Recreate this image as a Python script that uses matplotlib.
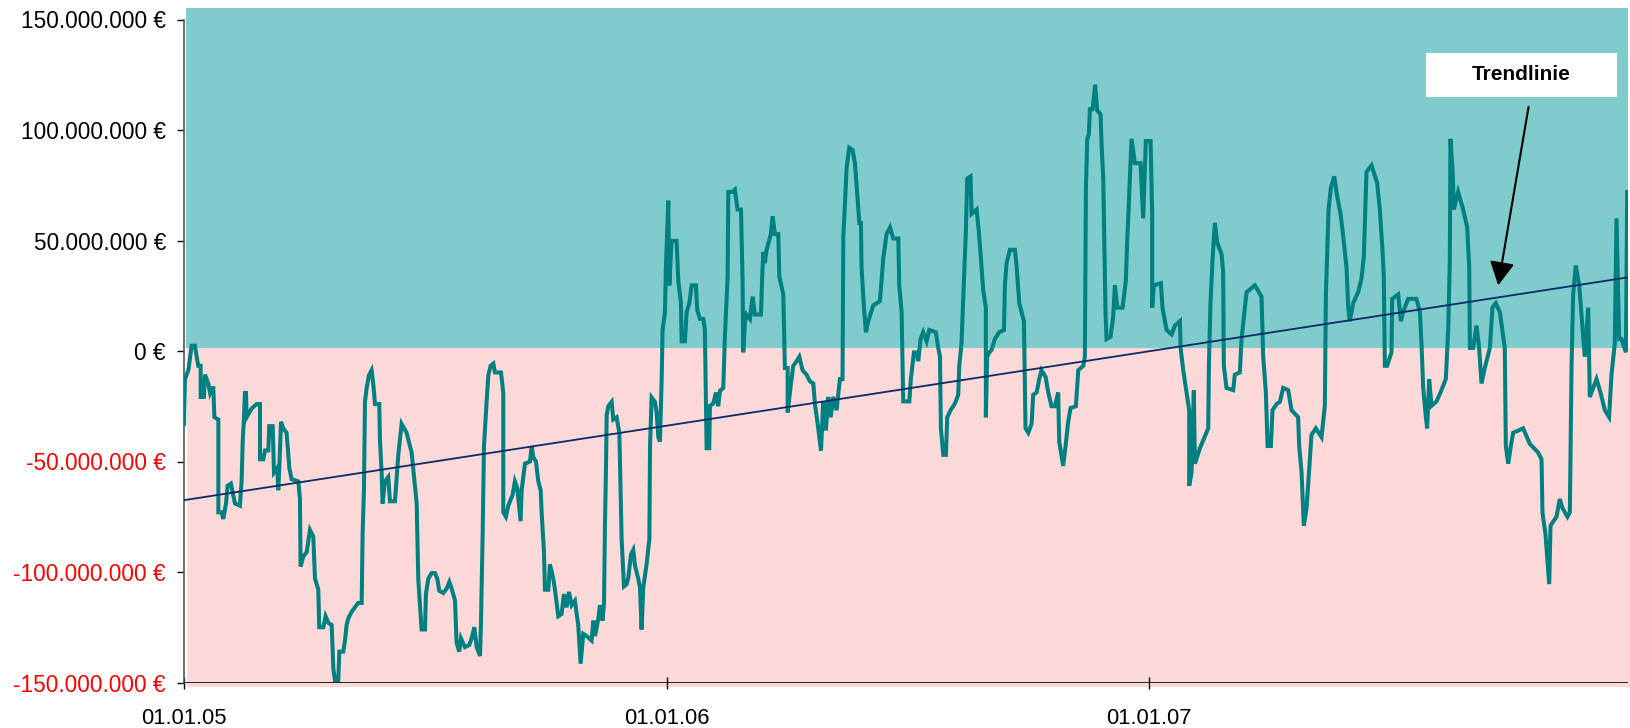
import matplotlib
matplotlib.use('Agg')
import matplotlib.pyplot as plt
import matplotlib.dates as mdates
import matplotlib.ticker as mticker
from matplotlib.patches import Rectangle
import numpy as np
import pandas as pd

plt.rcParams['font.family'] = ['Liberation Sans', 'DejaVu Sans']

# days since 01.01.2005 and value in million EUR
days = [0.0, 0.75, 3.3, 5.8, 8.3, 9.6, 10.8, 12.6, 12.6, 15.1, 15.9, 18.4, 19.7, 20.9, 22.2, 23.0,
        26.0, 26.0, 28.5, 29.7, 31.8, 33.0, 35.5, 36.8, 38.6, 42.3, 43.6, 44.4, 45.4, 46.1, 46.9,
        47.4, 51.2, 55.0, 57.5, 57.5, 60.0, 61.3, 63.8, 64.5, 67.1, 68.1, 70.6, 71.3, 72.1, 73.4,
        75.1, 77.6, 79.7, 81.4, 86.5, 87.7, 88.2, 90.2, 92.8, 95.3, 97.8, 99.1, 101.6, 102.3,
        105.4, 107.1, 109.2, 111.7, 113.0, 114.2, 116.7, 117.5, 120.5, 121.8, 123.0, 124.3, 126.8,
        129.3, 131.8, 134.4, 135.1, 136.1, 136.9, 138.1, 139.9, 141.9, 143.2, 144.5, 147.7, 148.2,
        149.5, 150.2, 152.0, 154.5, 155.8, 159.6, 162.1, 164.6, 168.4, 170.9, 172.2, 176.0, 177.2,
        179.7, 182.3, 183.0, 184.8, 187.3, 189.8, 191.6, 193.1, 196.1, 198.7, 200.7, 202.5, 205.0,
        206.2, 208.2, 209.5, 212.5, 215.8, 217.6, 219.6, 221.4, 223.9, 224.6, 225.9, 226.9, 228.9,
        230.2, 231.9, 234.0, 235.2, 239.8, 241.5, 241.5, 243.5, 245.3, 248.6, 250.3, 252.1, 254.6,
        255.4, 257.9, 261.7, 263.0, 264.2, 266.2, 268.0, 269.8, 270.5, 272.3, 273.0, 275.6, 276.8,
        279.3, 280.6, 283.1, 285.6, 287.4, 289.4, 291.2, 293.2, 295.7, 298.2, 300.0, 302.0, 304.6,
        308.3, 309.6, 310.9, 313.4, 314.6, 316.6, 317.7, 318.4, 319.2, 319.7, 320.9, 323.5, 324.7,
        327.2, 329.3, 331.0, 332.8, 334.8, 336.1, 338.1, 339.8, 341.1, 343.6, 344.9, 346.1, 347.4,
        349.9, 352.0, 352.5, 353.7, 356.2, 357.5, 358.8, 360.0, 361.3, 362.0, 363.8, 364.5, 366.3,
        367.1, 368.8, 372.6, 373.9, 375.9, 376.4, 378.9, 380.2, 382.2, 384.0, 387.2, 388.2, 390.3,
        392.8, 394.0, 395.3, 397.3, 397.8, 400.3, 402.4, 404.1, 405.4, 407.9, 409.2, 411.2, 411.7,
        415.0, 416.7, 418.7, 421.3, 422.5, 423.0, 424.3, 425.5, 428.1, 430.1, 431.8, 436.4, 437.4,
        438.2, 439.4, 440.7, 443.9, 445.2, 447.0, 449.5, 450.3, 453.3, 454.5, 456.6, 456.6, 458.3,
        460.8, 463.4, 465.4, 467.9, 470.9, 473.4, 476.0, 477.2, 479.7, 481.8, 483.5, 485.5, 487.3,
        489.1, 491.1, 493.6, 496.1, 498.1, 498.7, 499.9, 501.2, 503.2, 505.7, 507.5, 510.8, 512.0,
        512.5, 514.3, 515.8, 517.6, 521.3, 526.4, 528.9, 531.4, 534.0, 536.5, 540.3, 541.0, 542.8,
        544.0, 548.6, 549.8, 552.1, 554.1, 555.4, 557.1, 559.1, 561.7, 563.7, 568.7, 570.5, 571.8,
        572.5, 574.3, 576.3, 577.3, 579.8, 583.1, 585.6, 586.4, 588.1, 589.9, 591.4, 592.4, 594.9,
        595.7, 599.5, 601.2, 602.8, 604.5, 606.5, 606.5, 607.5, 609.1, 610.8, 613.3, 616.6, 620.2,
        620.9, 622.2, 624.7, 628.5, 629.7, 631.8, 635.3, 636.5, 638.6, 641.1, 642.3, 644.9, 646.9,
        648.6, 651.7, 653.7, 656.2, 658.7, 661.2, 662.0, 665.0, 666.8, 668.8, 670.6, 674.6, 676.4,
        680.2, 681.4, 682.2, 683.2, 684.4, 685.2, 687.2, 689.2, 690.7, 693.3, 694.0, 695.3, 697.0,
        697.8, 700.8, 702.8, 704.1, 705.9, 709.9, 712.4, 713.4, 714.2, 715.4, 716.7, 719.2, 723.5,
        725.5, 727.5, 731.1, 732.3, 732.3, 733.6, 738.9, 740.1, 743.2, 747.0, 749.5, 753.3, 753.8,
        755.8, 757.8, 760.3, 760.3, 762.1, 763.8, 764.6, 768.4, 774.7, 775.2, 776.4, 778.0, 779.7,
        781.5, 784.8, 786.0, 786.5, 788.5, 793.6, 794.8, 798.6, 799.9, 803.7, 810.0, 815.0, 816.3,
        818.3, 819.6, 822.1, 823.3, 826.4, 828.9, 831.4, 835.2, 837.7, 842.7, 843.5, 845.3, 847.0,
        849.1, 851.1, 852.8, 856.1, 860.4, 862.9, 863.7, 865.7, 867.5, 870.0, 872.2, 874.8, 876.8,
        879.3, 880.6, 881.8, 884.3, 888.1, 890.6, 892.4, 894.4, 898.2, 902.5, 904.5, 906.5, 907.5,
        908.3, 910.0, 913.3, 913.8, 918.4, 920.4, 922.1, 925.9, 932.2, 934.8, 936.0, 937.3, 939.3,
        940.3, 941.8, 943.6, 947.4, 950.4, 954.4, 956.2, 957.4, 957.9, 959.5, 960.5, 963.7, 967.5,
        970.6, 972.1, 972.6, 975.1, 977.6, 979.6, 981.4, 983.9, 987.7, 989.7, 992.2, 995.3, 999.0,
        999.8, 1001.6, 1003.6, 1005.3, 1012.9, 1017.9, 1024.3, 1026.8, 1027.5, 1029.8, 1032.6,
        1033.6, 1038.1, 1040.6, 1042.6, 1046.4, 1048.2, 1049.5, 1050.7, 1052.7, 1055.3, 1059.5,
        1062.1, 1063.3, 1068.4, 1071.4, 1074.7, 1077.9, 1079.7, 1082.2, 1083.5, 1085.5, 1087.3,
        1090.6, 1091.6]
values = [-33, -12.7, -8.7, 2.4, 2.4, -2.6, -6.7, -6.7, -20.8, -20.8, -10.7, -14.7, -18.8, -16.8, -16.8, -30,
          -31, -73, -73, -76, -69, -61, -60, -64, -69, -70, -59, -41, -30, -19, -19,
          -30, -26, -24, -24, -49, -49, -45, -45, -34, -34, -55, -53, -63, -53, -32,
          -35, -37, -53, -58, -59, -67, -97.5, -93, -91, -81, -84, -103, -108, -125,
          -125, -120, -123, -124, -144, -149, -149, -136, -136, -131, -124, -121, -118,
          -116, -114, -114, -83, -63, -23, -17, -11, -8.7, -15, -24, -24, -40,
          -55, -69, -59, -57, -68, -68, -47, -33, -37, -43, -46, -69, -103,
          -126, -126, -110, -103, -100.5, -100.5, -103, -108.5, -109.5, -107.5, -104.5, -107.5, -113,
          -132, -136, -130, -134, -133, -130, -125, -134, -138, -124, -83, -43, -23,
          -11, -6.7, -5.7, -9.7, -9.7, -19, -73, -75, -70, -65, -59, -62, -77,
          -63, -51, -50, -43, -48, -50, -59, -63, -73, -91, -108, -108, -96.5,
          -103, -108, -120, -119, -110, -116, -109, -115, -113, -124, -141.5, -128, -129,
          -131, -122, -129, -121, -115, -122, -114, -79, -53, -29, -25, -23, -31,
          -30, -37, -85, -106.5, -105.5, -102.5, -92, -90, -97, -103, -107, -126, -107,
          -96.5, -85, -43, -21, -23, -28, -39, -41, -12.7, 9.5, 17.6, 37.7, 68,
          29.7, 49.8, 49.8, 31.7, 21.6, 4.4, 4.4, 17.6, 21.6, 29.7, 29.7, 18.6, 14.5,
          14.5, 9.5, -44, -44, -24.8, -23.8, -18.8, -25, -18, -16.7, 7.5, 33.7, 72,
          72, 73, 64, 64, 31.7, -0.6, 13.5, 16.5, 14.5, 24.6, 16.5, 16.5, 34.7,
          44.8, 39.8, 45.8, 52.9, 61, 52.9, 52.9, 33.7, 25.6, -7.7, -7.7, -27.8, -18.8,
          -6.7, -4.6, -2.6, -8.7, -10.7, -13.7, -14.7, -23.8, -34.9, -45, -22.8, -36, -20.8,
          -30, -20.8, -26.8, -12.7, -12.7, 51.9, 66, 83, 92, 91, 85, 58, 58,
          37.7, 19.6, 8.5, 13.5, 20.6, 22.6, 41.8, 52.9, 55.9, 50.9, 50.9, 29.7, 17.6,
          -22.8, -22.8, -12.7, -0.6, -0.6, -4.6, 5.4, 8.5, 4.4, 9.5, 8.5, 1.4, -2.6,
          -35, -47, -47, -30, -26.8, -23.8, -19.8, -6.7, 3.4, 31.7, 53.9, 78, 79,
          62, 64, 53.9, 41.8, 27.6, 19.6, -30, -2.6, -0.6, 0.4, 5.4, 8.5, 9.5,
          29.7, 39.8, 45.8, 45.8, 38.7, 21.6, 13.5, -35, -37, -33, -19.8, -18.8, -12.7,
          -8.7, -11.7, -18.8, -25, -25, -18.8, -41, -52, -43, -32, -25.8, -25, -8.7,
          -6.7, -2.6, 74, 96, 98, 109.4, 109.4, 120.5, 109, 107, 94, 78, 17.6,
          5.4, 6.4, 15.5, 29.7, 19.6, 19.6, 31.7, 49.8, 60, 78, 96, 85, 85,
          60, 95, 95, 62, 19.6, 29.7, 30.7, 19.6, 9.5, 7.5, 11.5, 13.5, 1.4,
          -8.7, -16.7, -26.8, -61, -55, -17.8, -51, -44, -35, -6.7, 21.6, 41.8, 58,
          49, 43.8, 35.7, -6.7, -16.7, -17.7, -10.7, -9.7, 5.4, 26.6, 29.7, 24.6, -2.6,
          -18.8, -43, -43, -26.8, -24, -23, -16.7, -17.7, -26.8, -29.9, -43, -55, -79,
          -71, -53, -38, -35, -39, -24.8, 25.6, 64, 74, 79, 70, 62, 51.9,
          37.7, 19.6, 13.5, 21.6, 26.6, 32.7, 42.8, 81, 84, 76, 64, 45.8, 33.7,
          -6.7, -6.7, -0.6, 23.6, 25.6, 13.5, 17.6, 23.6, 23.6, 17.6, 3.4, -16.7, -29.9,
          -35, -12.7, -24.8, -22.8, -18.8, -12.7, 9.5, 39.8, 96, 82, 64, 72, 64,
          55.9, 37.7, 1.4, 1.4, 11.5, 1.4, -14.7, -7.7, 1.4, 19.6, 21.6, 17.6, 1.4,
          -43, -51, -43, -37, -35, -42, -46, -49, -73, -83, -105.5,
          -79, -75, -67, -71, -75, -73, -6.7, 25.6, 38.7, 29.7, -2.6,
          19.6, -20.8, -12.7, -18.8, -26.8, -29.9, -10.7, 3.4, 60, 5.4, 5.4,
          -0.6, 72]

# linear trend (start / end value in million EUR)
trend_days = [0, 1092]
trend_values = [-67.5, 33.3]

start = pd.Timestamp('2005-01-01')
dates = start + pd.to_timedelta(days, unit='D')
trend_dates = start + pd.to_timedelta(trend_days, unit='D')
vals = np.array(values) * 1e6
tvals = np.array(trend_values) * 1e6

fig = plt.figure(figsize=(16.31, 7.28), dpi=100)
ax = fig.add_axes([0.1128, 0.0625, 0.8852, 0.9265])

x0 = mdates.date2num(start)
x1 = mdates.date2num(start + pd.Timedelta(days=1092))
ax.set_xlim(x0, x1)
ax.set_ylim(-150e6, 155.2e6)

# coloured background: positive zone teal, negative zone pink
ax.add_patch(Rectangle((x0 + 2 / 1.32, 1.5e6), x1 - x0, 155e6, color='#80CBCB', zorder=0, lw=0))
ax.add_patch(Rectangle((x0 + 3 / 1.32, -152e6), x1 - x0, 153.5e6, color='#FCD9D9', zorder=0, lw=0,
                       clip_on=False))

ax.plot(dates, vals, color='#008080', lw=2.9, solid_joinstyle='miter', zorder=3)
ax.plot(trend_dates, tvals, color='#0A2A66', lw=1.3, zorder=4)

# x axis line at -150 Mio
ax.axhline(-150e6, color='black', lw=1.2, zorder=5)

for s in ['top', 'right', 'bottom']:
    ax.spines[s].set_visible(False)
ax.spines['left'].set_color('#555555')
ax.spines['left'].set_linewidth(1.2)
ax.spines['left'].set_bounds(-150e6, 150e6)

ax.set_yticks(np.arange(-150e6, 150e6 + 1, 50e6))


def euro(v, pos):
    return f"{int(round(v)):,}".replace(',', '.') + ' €'


ax.yaxis.set_major_formatter(mticker.FuncFormatter(euro))
ax.tick_params(axis='y', length=5, width=1, pad=8, labelsize=16.3)
for lbl, v in zip(ax.get_yticklabels(), ax.get_yticks()):
    lbl.set_color('red' if v < 0 else 'black')

ax.xaxis.set_major_locator(mdates.YearLocator())
ax.xaxis.set_major_formatter(mdates.DateFormatter('%d.%m.%y'))
ax.tick_params(axis='x', direction='inout', length=9, width=1, pad=14, labelsize=15.8)

# annotation box
ax.add_patch(Rectangle((x0 + 939.4, 114.9e6), 144.4, 20.1e6, facecolor='white', edgecolor='none',
                       zorder=6))
ax.text(x0 + 1011.6, 125e6, 'Trendlinie', ha='center', va='center', fontsize=15,
        fontweight='bold', zorder=7)
ax.annotate('', xy=(x0 + 994, 29.7e6), xytext=(x0 + 1017, 110.5e6),
            arrowprops=dict(arrowstyle='-|>,head_length=0.72,head_width=0.38', color='black',
                            lw=1.5, mutation_scale=20, shrinkA=0, shrinkB=0), zorder=7)

fig.savefig('out.png', dpi=100)
